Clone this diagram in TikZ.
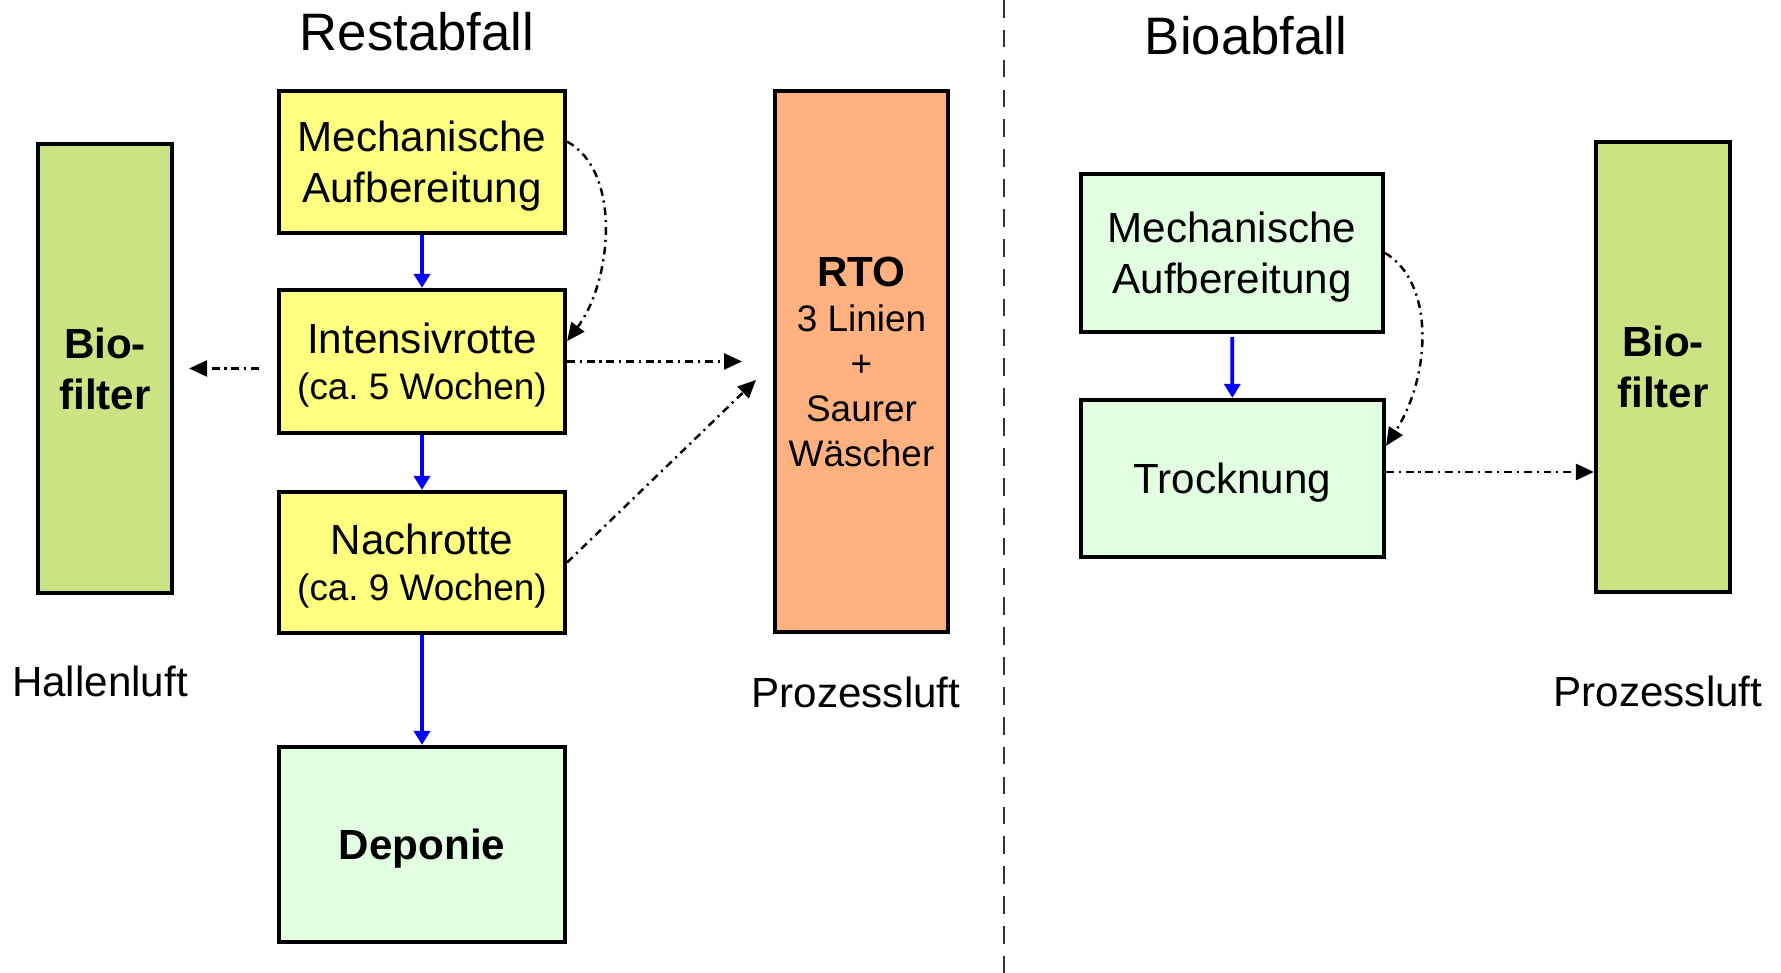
\documentclass[tikz,border=0pt]{standalone}
\usepackage{fontspec}
\setmainfont{Liberation Sans}
\usepackage{tikz}
\usetikzlibrary{arrows.meta, positioning, calc}
\definecolor{boxyellow}{HTML}{FFFF80}
\definecolor{boxgreen}{HTML}{E2FFE2}
\definecolor{filtergreen}{HTML}{CCE383}
\definecolor{rtoorange}{HTML}{FFB27F}
\newcommand{\subline}{\fontsize{10.5}{13.5}\selectfont}
\tikzset{
  stage/.style={draw, line width=1.2pt, align=center, inner sep=0pt, text depth=0pt,
    font=\fontsize{12}{14.5}\selectfont},
  flow/.style={blue, line width=1.1pt, -{Triangle[length=0.14cm,width=0.16cm]}},
  airflow/.style={line width=0.7pt, dash pattern=on 2.2pt off 1.4pt on 0.6pt off 1.4pt,
    -{Triangle[length=0.18cm,width=0.16cm]}},
  caption/.style={font=\fontsize{12}{14.5}\selectfont},
  headline/.style={font=\fontsize{15}{18}\selectfont}
}

\begin{document}
\begin{tikzpicture}
  \useasboundingbox (0,0) rectangle (17.81,9.73);

  % Headings
  \node[headline] (rest) at (4.17,9.41) {Restabfall};
  \node[headline] (bio) at (12.46,9.37) {Bioabfall};

  % Divider
  \coordinate (divtop) at (10.04,9.73);
  \coordinate (divbot) at (10.04,0);
  \draw[line width=0.8pt, dash pattern=on 5pt off 3.5pt, black!80] (divtop) -- (divbot);

  % Restabfall line
  \node[stage, fill=filtergreen, minimum width=1.34cm, minimum height=4.49cm,
    font=\fontsize{12}{14.5}\selectfont\bfseries] (bioL) at (1.05,6.045) {Bio-\\filter};
  \node[stage, fill=boxyellow, minimum width=2.86cm, minimum height=1.42cm] (mech) at (4.22,8.11) {Mechanische\\Aufbereitung};
  \node[stage, fill=boxyellow, minimum width=2.86cm, minimum height=1.43cm] (intensiv) at (4.22,6.115) {Intensivrotte\\[-1.3pt]\subline(ca.\ 5 Wochen)};
  \node[stage, fill=boxyellow, minimum width=2.86cm, minimum height=1.41cm] (nach) at (4.22,4.105) {Nachrotte\\[-1.3pt]\subline(ca.\ 9 Wochen)};
  \node[stage, fill=boxgreen, minimum width=2.86cm, minimum height=1.95cm,
    font=\fontsize{12}{14.5}\selectfont\bfseries] (deponie) at (4.22,1.285) {Deponie};
  \node[stage, fill=rtoorange, minimum width=1.73cm, minimum height=5.41cm,
    font=\fontsize{10.5}{12.8}\selectfont] (rto) at (8.615,6.115) {\textbf{\fontsize{12}{12.8}\selectfont RTO}\\3 Linien\\+\\Saurer\\Wäscher};

  \node[caption] (hallen) at (1.00,2.92) {Hallenluft};
  \node[caption] (prozL) at (8.56,2.81) {Prozessluft};

  % Bioabfall line
  \node[stage, fill=boxgreen, minimum width=3.02cm, minimum height=1.58cm] (rmech) at (12.32,7.20) {Mechanische\\Aufbereitung};
  \node[stage, fill=boxgreen, minimum width=3.03cm, minimum height=1.57cm] (trock) at (12.325,4.945) {Trocknung};
  \node[stage, fill=filtergreen, minimum width=1.34cm, minimum height=4.50cm,
    font=\fontsize{12}{14.5}\selectfont\bfseries] (bioR) at (16.63,6.06) {Bio-\\filter};
  \node[caption] (prozR) at (16.58,2.82) {Prozessluft};

  % Material flow
  \draw[flow] (mech) -- (intensiv);
  \draw[flow] (intensiv) -- (nach);
  \draw[flow] (nach) -- (deponie);
  \draw[flow, shorten <=0.03cm] (rmech) -- (trock);

  % Air flow
  \coordinate (rtoA) at (7.42,6.115);
  \coordinate (rtoB) at (7.56,5.93);
  \draw[airflow] (mech.8) .. controls +(0.55,-0.3) and +(0.45,0.6) .. (intensiv.8);
  \draw[airflow] (intensiv.east) -- (rtoA);
  \draw[airflow] (nach.east) -- (rtoB);
  \draw[airflow, shorten <=0.18cm, shorten >=0.15cm] (intensiv.west |- bioL.east) -- (bioL.east);
  \draw[airflow] (rmech.east) .. controls +(0.5,-0.3) and +(0.45,0.7) .. (trock.12);
  \draw[airflow] (trock.east |- 0,5.01) -- (bioR.west |- 0,5.01);
\end{tikzpicture}
\end{document}
